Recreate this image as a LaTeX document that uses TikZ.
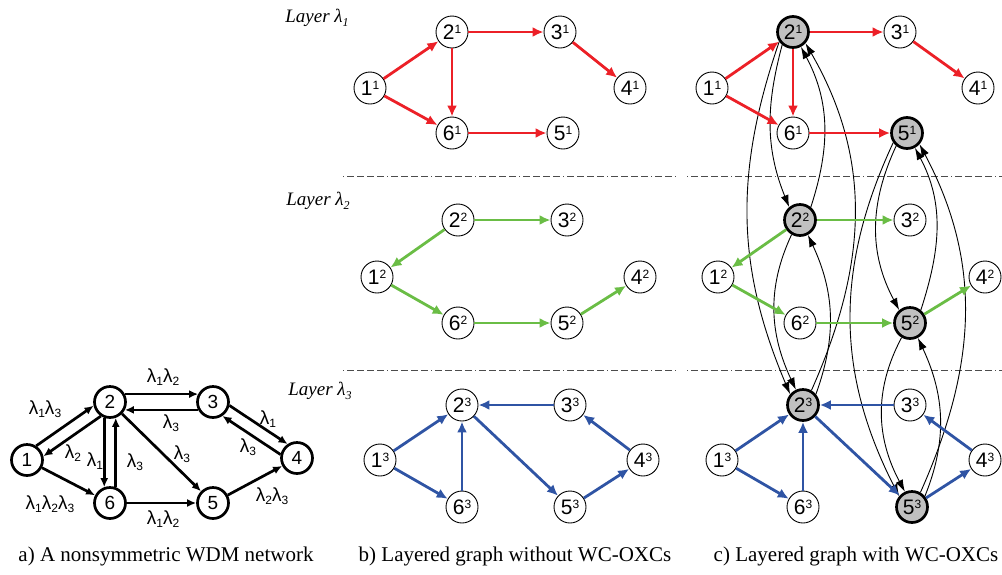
\documentclass[tikz,border=0pt]{standalone}
\usepackage{fontspec}
\setmainfont{Liberation Sans}
\newfontfamily\capfont{Liberation Serif}
\usetikzlibrary{arrows.meta}

\definecolor{wred}{RGB}{236,32,39}
\definecolor{wgreen}{RGB}{106,189,69}
\definecolor{wblue}{RGB}{47,84,164}
\definecolor{wcgray}{RGB}{192,192,192}

\newcommand{\vx}[2]{#1\raisebox{5.5pt}{\fontsize{12}{12}\selectfont #2}}
\newcommand{\lam}[1]{λ\raisebox{-3.5pt}{\fontsize{12}{12}\selectfont #1}}
\newcommand{\layer}[1]{{\capfont\itshape Layer λ\raisebox{-4pt}{\fontsize{12}{12}\selectfont #1}}}

\begin{document}
\begin{tikzpicture}[x=1pt, y=-1pt]
    \tikzstyle{net} = [draw, circle, line width=2.7pt, fill=white, minimum size=31pt, inner sep=0pt, font=\fontsize{19}{19}\selectfont]
    \tikzstyle{vtx} = [draw, circle, line width=0.9pt, fill=white, minimum size=32pt, inner sep=0pt, font=\fontsize{21}{21}\selectfont]
    \tikzstyle{wc} = [vtx, fill=wcgray, line width=2.7pt, minimum size=31pt]
    \tikzstyle{lbl} = [font=\fontsize{19}{19}\selectfont, inner sep=0pt]
    \tikzstyle{netarrow} = [line width=2.7pt, ->, >={Latex[length=9pt,width=8pt]}]
    \tikzstyle{arrow} = [line width=2.8pt, ->, >={Latex[length=11pt,width=10pt]}]
    \tikzstyle{conv} = [line width=0.9pt, ->, >={Latex[length=12pt,width=8pt]}]
    \tikzstyle{sep} = [line width=0.8pt, black!70, dash pattern=on 1pt off 3pt on 7pt off 3pt on 7pt off 3pt on 7pt off 3pt on 7pt off 3pt]

    \useasboundingbox (0,0) rectangle (1002,574);

    \node[net] (a1) at (27, 460) {1};
    \node[net] (a2) at (110, 402) {2};
    \node[net] (a3) at (213, 402) {3};
    \node[net] (a4) at (297, 458) {4};
    \node[net] (a5) at (213, 503) {5};
    \node[net] (a6) at (110, 503) {6};

    \draw [netarrow] (a1.57) -- (a2.193);
    \draw [netarrow] (a2.237) -- (a1.13);
    \draw [netarrow] (a1) -- (a6);
    \draw [netarrow] (a2.28) -- (a3.152);
    \draw [netarrow] (a3.208) -- (a2.-28);
    \draw [netarrow] (a2.-110) -- (a6.110);
    \draw [netarrow] (a6.70) -- (a2.-70);
    \draw [netarrow] (a2) -- (a5);
    \draw [netarrow] (a3.-12) -- (a4.124);
    \draw [netarrow] (a4.168) -- (a3.-56);
    \draw [netarrow] (a6) -- (a5);
    \draw [netarrow] (a5) -- (a4);

    \node[lbl] (l12) at (45, 409) {\lam{1}\lam{3}};
    \node[lbl] (l21) at (73, 453) {\lam{2}};
    \node[lbl] (l16) at (50, 504) {\lam{1}\lam{2}\lam{3}};
    \node[lbl] (l23) at (163, 377) {\lam{1}\lam{2}};
    \node[lbl] (l32) at (171, 423) {\lam{3}};
    \node[lbl] (l26) at (95, 461) {\lam{1}};
    \node[lbl] (l62) at (135, 462) {\lam{3}};
    \node[lbl] (l25) at (182, 454) {\lam{3}};
    \node[lbl] (l34) at (268, 419) {\lam{1}};
    \node[lbl] (l43) at (248, 447) {\lam{3}};
    \node[lbl] (l65) at (163, 519) {\lam{1}\lam{2}};
    \node[lbl] (l54) at (272, 496) {\lam{2}\lam{3}};

    \node[lbl] (ly1) at (317, 18) {\layer{1}};
    \node[lbl] (ly2) at (318, 201) {\layer{2}};
    \node[lbl] (ly3) at (320, 391) {\layer{3}};

    \draw [sep] (343, 176) -- (676, 176);
    \draw [sep] (687, 176) -- (1002, 176);
    \draw [sep] (343, 370) -- (676, 370);
    \draw [sep] (687, 370) -- (1002, 370);

    \node[vtx] (b11) at (370, 88) {\vx{1}{1}};
    \node[vtx] (b21) at (452, 32) {\vx{2}{1}};
    \node[vtx] (b31) at (560, 32) {\vx{3}{1}};
    \node[vtx] (b41) at (630, 88) {\vx{4}{1}};
    \node[vtx] (b51) at (563, 133) {\vx{5}{1}};
    \node[vtx] (b61) at (452, 133) {\vx{6}{1}};

    \node[vtx] (b12) at (377, 277) {\vx{1}{2}};
    \node[vtx] (b22) at (458, 220) {\vx{2}{2}};
    \node[vtx] (b32) at (567, 220) {\vx{3}{2}};
    \node[vtx] (b42) at (640, 277) {\vx{4}{2}};
    \node[vtx] (b52) at (567, 323) {\vx{5}{2}};
    \node[vtx] (b62) at (458, 323) {\vx{6}{2}};

    \node[vtx] (b13) at (380, 460) {\vx{1}{3}};
    \node[vtx] (b23) at (462, 405) {\vx{2}{3}};
    \node[vtx] (b33) at (570, 405) {\vx{3}{3}};
    \node[vtx] (b43) at (643, 460) {\vx{4}{3}};
    \node[vtx] (b53) at (570, 507) {\vx{5}{3}};
    \node[vtx] (b63) at (462, 507) {\vx{6}{3}};

    \draw [arrow, wred] (b11) -- (b21);
    \draw [arrow, wred] (b11) -- (b61);
    \draw [arrow, wred] (b21) -- (b31);
    \draw [arrow, wred] (b21) -- (b61);
    \draw [arrow, wred] (b31) -- (b41);
    \draw [arrow, wred] (b61) -- (b51);

    \draw [arrow, wgreen] (b22) -- (b12);
    \draw [arrow, wgreen] (b12) -- (b62);
    \draw [arrow, wgreen] (b22) -- (b32);
    \draw [arrow, wgreen] (b62) -- (b52);
    \draw [arrow, wgreen] (b52) -- (b42);

    \draw [arrow, wblue] (b13) -- (b23);
    \draw [arrow, wblue] (b13) -- (b63);
    \draw [arrow, wblue] (b63) -- (b23);
    \draw [arrow, wblue] (b33) -- (b23);
    \draw [arrow, wblue] (b23) -- (b53);
    \draw [arrow, wblue] (b53) -- (b43);
    \draw [arrow, wblue] (b43) -- (b33);

    \node[vtx] (c11) at (712, 88) {\vx{1}{1}};
    \node[wc] (c21) at (793, 32) {\vx{2}{1}};
    \node[vtx] (c31) at (900, 32) {\vx{3}{1}};
    \node[vtx] (c41) at (978, 88) {\vx{4}{1}};
    \node[wc] (c51) at (907, 133) {\vx{5}{1}};
    \node[vtx] (c61) at (793, 133) {\vx{6}{1}};

    \node[vtx] (c12) at (718, 277) {\vx{1}{2}};
    \node[wc] (c22) at (800, 220) {\vx{2}{2}};
    \node[vtx] (c32) at (910, 220) {\vx{3}{2}};
    \node[vtx] (c42) at (985, 277) {\vx{4}{2}};
    \node[wc] (c52) at (910, 323) {\vx{5}{2}};
    \node[vtx] (c62) at (800, 323) {\vx{6}{2}};

    \node[vtx] (c13) at (722, 460) {\vx{1}{3}};
    \node[wc] (c23) at (803, 405) {\vx{2}{3}};
    \node[vtx] (c33) at (910, 405) {\vx{3}{3}};
    \node[vtx] (c43) at (985, 460) {\vx{4}{3}};
    \node[wc] (c53) at (912, 507) {\vx{5}{3}};
    \node[vtx] (c63) at (803, 507) {\vx{6}{3}};

    \draw [conv] (c21.230) to[out=-105, in=112] (c22.130);
    \draw [conv] (c22.50) to[out=72, in=-62] (c21.-62);
    \draw [conv] (c21.215) to[out=-109, in=113] (c23.140);
    \draw [conv] (c23.60) to[out=66, in=-60] (c21.-42);
    \draw [conv] (c22.240) to[out=-115, in=115] (c23.115);
    \draw [conv] (c23.40) to[out=70, in=-65] (c22.-62);

    \draw [conv] (c51.230) to[out=-115, in=118] (c52.130);
    \draw [conv] (c52.50) to[out=72, in=-62] (c51.-62);
    \draw [conv] (c51.215) to[out=-115, in=117] (c53.140);
    \draw [conv] (c53.60) to[out=66, in=-62] (c51.-42);
    \draw [conv] (c52.240) to[out=-118, in=118] (c53.115);
    \draw [conv] (c53.40) to[out=68, in=-65] (c52.-62);

    \draw [arrow, wred] (c11) -- (c21);
    \draw [arrow, wred] (c11) -- (c61);
    \draw [arrow, wred] (c21) -- (c31);
    \draw [arrow, wred] (c21) -- (c61);
    \draw [arrow, wred] (c31) -- (c41);
    \draw [arrow, wred] (c61) -- (c51);

    \draw [arrow, wgreen] (c22) -- (c12);
    \draw [arrow, wgreen] (c12) -- (c62);
    \draw [arrow, wgreen] (c22) -- (c32);
    \draw [arrow, wgreen] (c62) -- (c52);
    \draw [arrow, wgreen] (c52) -- (c42);

    \draw [arrow, wblue] (c13) -- (c23);
    \draw [arrow, wblue] (c13) -- (c63);
    \draw [arrow, wblue] (c63) -- (c23);
    \draw [arrow, wblue] (c33) -- (c23);
    \draw [arrow, wblue] (c23) -- (c53);
    \draw [arrow, wblue] (c53) -- (c43);
    \draw [arrow, wblue] (c43) -- (c33);

    \node[font=\capfont\fontsize{21}{21}\selectfont] (capa) at (166, 556) {a) A nonsymmetric WDM network};
    \node[font=\capfont\fontsize{21}{21}\selectfont] (capb) at (515, 556) {b) Layered graph without WC-OXCs};
    \node[font=\capfont\fontsize{21}{21}\selectfont] (capc) at (856, 556) {c) Layered graph with WC-OXCs};
\end{tikzpicture}
\end{document}
